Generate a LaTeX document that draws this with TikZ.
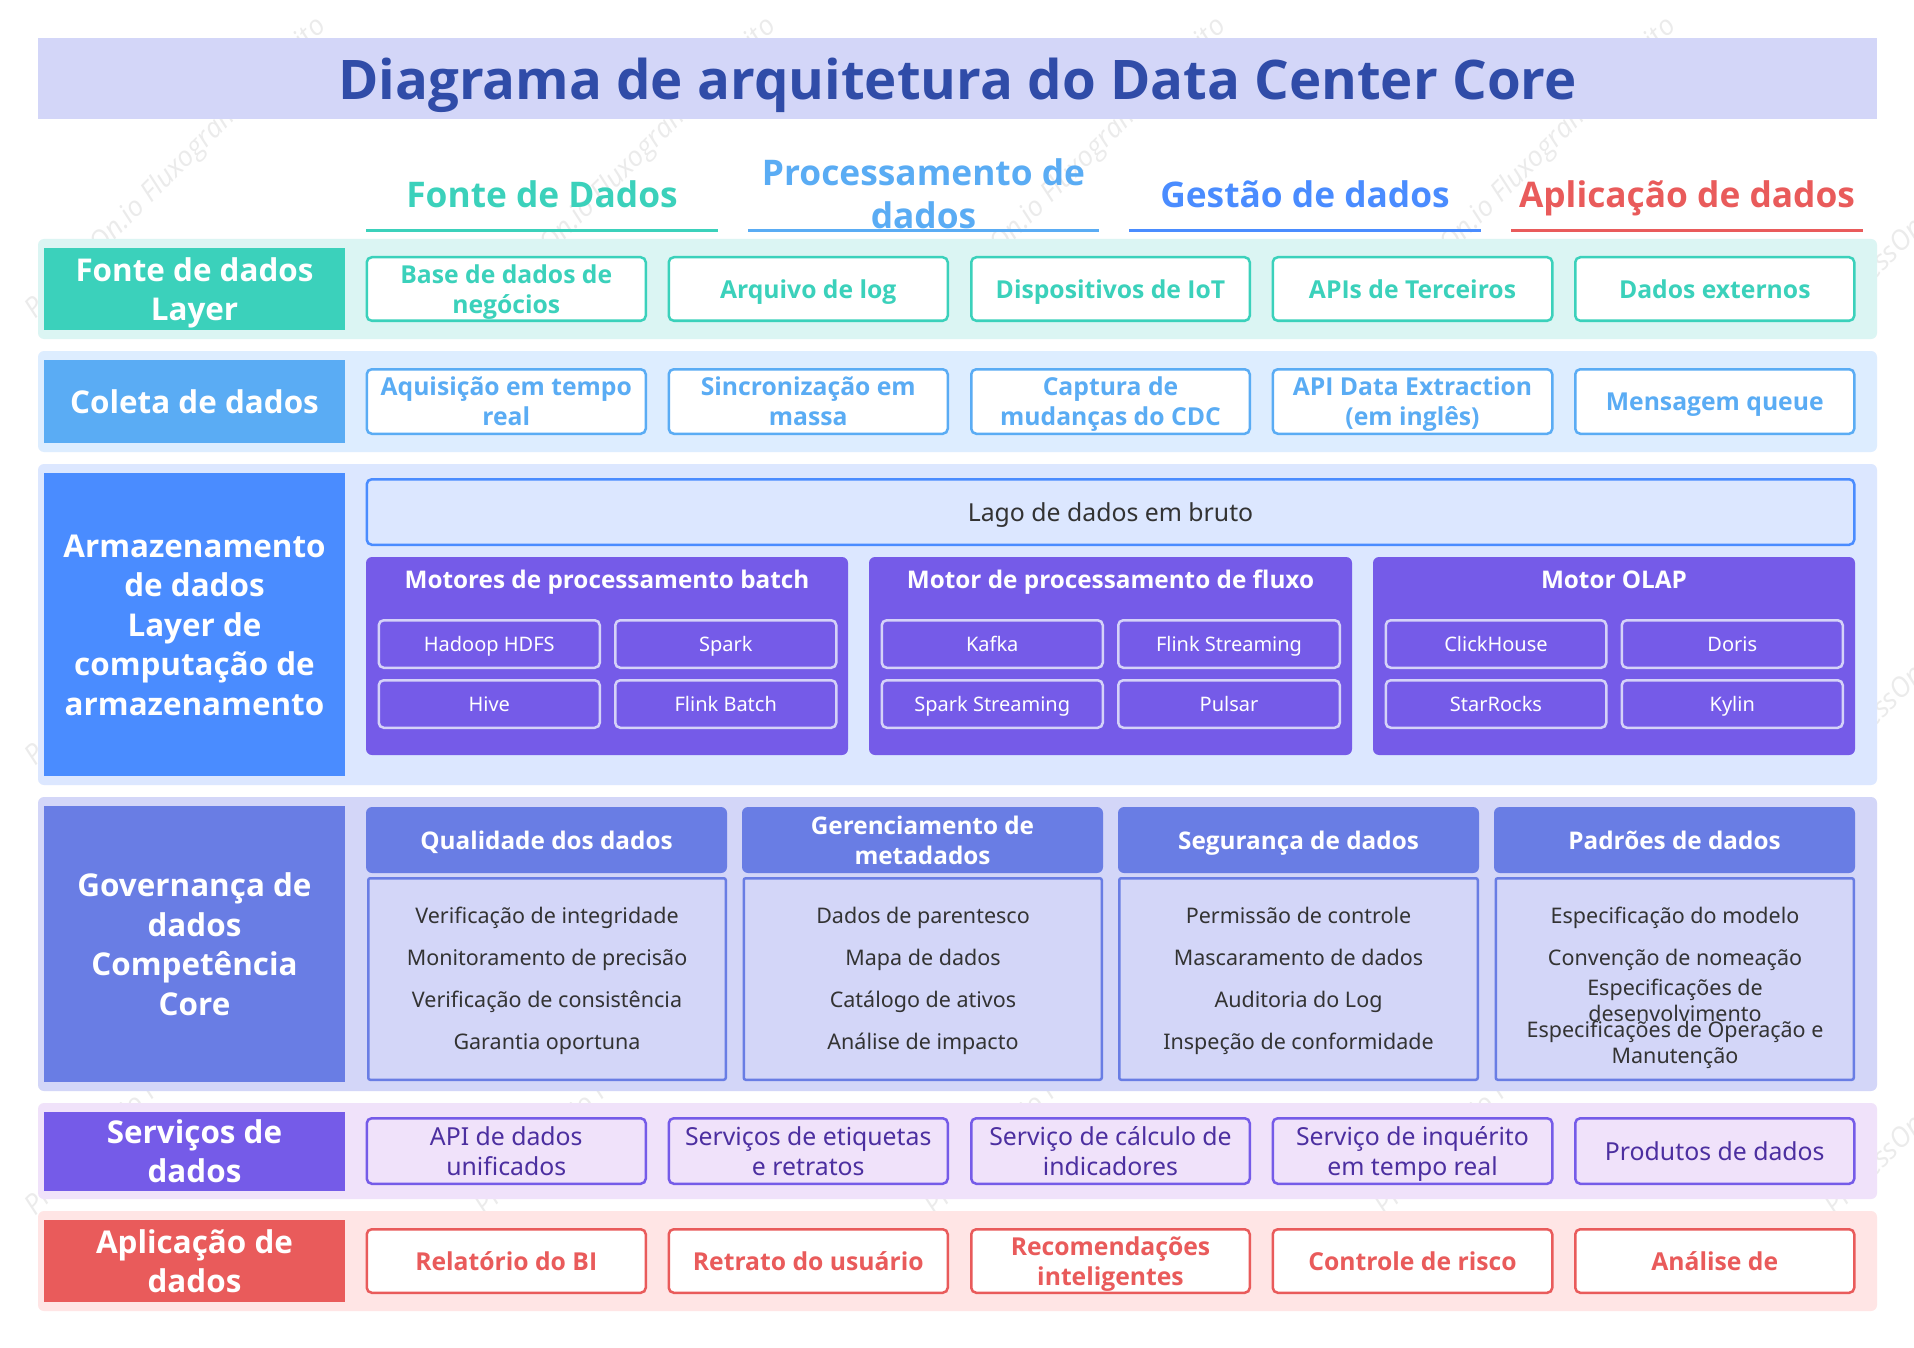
\documentclass[tikz,border=0pt]{standalone}
\usepackage{fontspec}
\setmainfont{Noto Sans}[BoldFont={Open Sans Bold},ItalicFont={Open Sans Italic}]
\definecolor{cTeal}{HTML}{3BD1BB}
\definecolor{cSky}{HTML}{5AACF4}
\definecolor{cBlue}{HTML}{4A8CFF}
\definecolor{cIndigo}{HTML}{697DE4}
\definecolor{cPurple}{HTML}{755BE8}
\definecolor{cRed}{HTML}{E95B5B}
\definecolor{bgTeal}{HTML}{DBF5F3}
\definecolor{bgSky}{HTML}{DDEDFF}
\definecolor{bgBlue}{HTML}{DCE7FF}
\definecolor{bgIndigo}{HTML}{D3D6F8}
\definecolor{bgPurple}{HTML}{F0E2FA}
\definecolor{bgRed}{HTML}{FFE5E5}
\definecolor{cTitle}{HTML}{304CA8}
\definecolor{cDark}{HTML}{333333}
\definecolor{cServ}{HTML}{4C2FA0}
\definecolor{cInner}{HTML}{D5D2F8}
\definecolor{cMark}{HTML}{EBEBEB}
\newcommand{\bxs}{\leavevmode\vrule width 0pt height .8\baselineskip depth .2\baselineskip}
\newcommand{\bx}[8][0]{%
  \pgfmathsetmacro\bxcx{(#4+#6)/2}%
  \pgfmathsetmacro\bxcy{(#5+#7)/2}%
  \pgfmathsetmacro\bxw{#6-#4-2*#1}%
  \pgfmathsetmacro\bxh{#7-#5-2*#1}%
  \node[#3,minimum width=\bxw pt,minimum height=\bxh pt] (#2) at (\bxcx pt,-\bxcy pt) {\bxs #8\bxs};}
\tikzset{
  base/.style={inner sep=0pt,outer sep=0pt,align=center},
  fsBody/.style={font=\fontsize{21.5}{26}\selectfont},
  fsCell/.style={font=\fontsize{24.8}{30}\selectfont},
  fsCellB/.style={font=\fontsize{24.7}{30}\selectfont\bfseries},
  fsLabel/.style={font=\fontsize{31.4}{39.5}\selectfont\bfseries},
  band/.style={base,fill=bgIndigo},
  rowbg/.style={base,rounded corners=6pt},
  lbl/.style={base,fsLabel,text=white},
  cellbox/.style={base,fill=white,draw,line width=2.5pt,rounded corners=5pt,fsCellB},
  svcell/.style={base,fill=bgPurple,draw=cPurple,line width=2.5pt,rounded corners=5pt,fsCell,text=cServ},
  lake/.style={base,fill=bgBlue,draw=cBlue,line width=2.5pt,rounded corners=5pt,fsCell,text=cDark},
  panelbox/.style={base,fill=cPurple,rounded corners=6pt},
  ptitle/.style={base,text=white,font=\fontsize{24.3}{30}\selectfont\bfseries},
  innerbox/.style={base,draw=cInner,line width=2.5pt,rounded corners=5pt,text=white,font=\fontsize{20}{26}\selectfont},
  ghead/.style={base,fill=cIndigo,rounded corners=6pt,text=white,font=\fontsize{24.3}{30}\selectfont\bfseries},
  gbody/.style={base,draw=cIndigo,line width=2.5pt,rounded corners=2pt},
  gtext/.style={base,text=cDark,fsBody},
  chead/.style={base,font=\fontsize{35.3}{43}\selectfont\bfseries},
  cline/.style={line width=2.5pt},
  wmark/.style={inner sep=0pt,anchor=base west,rotate=45,text=cMark,font=\fontsize{27.5}{30}\selectfont\itshape},
}
\begin{document}
\begin{tikzpicture}[x=1pt,y=1pt]
\clip (0,0) rectangle (1914pt,-1348pt);
\fill[white] (0,0) rectangle (1914pt,-1348pt);
% watermarks
\foreach \r/\ry in {1/320,2/767,3/1217}{
  \foreach \c/\cx in {1/35,2/485,3/935,4/1385,5/1835}{
    \node[wmark] (wm\r\c) at (\cx pt,-\ry pt) {ProcessOn.io Fluxograma gratuito};
  }
}
% title
\bx{titleband}{band}{38}{38}{1877}{119}{}
\node[base,text=cTitle,font=\fontsize{54.6}{66}\selectfont\bfseries] (title) at (957.5pt,-85pt) {Diagrama de arquitetura do Data Center Core};
% column heads
\bx{hA}{chead,text=cTeal}{366}{169.5}{718}{219.5}{Fonte de Dados}
\bx{hB}{chead,text=cSky}{748}{149.5}{1099}{238.5}{Processamento de\\dados}
\bx{hC}{chead,text=cBlue}{1129}{169.5}{1481}{219.5}{Gestão de dados}
\bx{hD}{chead,text=cRed}{1511}{169.5}{1863}{219.5}{Aplicação de dados}
\coordinate (lA1) at (366pt,-230.5pt); \coordinate (lA2) at (718pt,-230.5pt);
\coordinate (lB1) at (748pt,-230.5pt); \coordinate (lB2) at (1099pt,-230.5pt);
\coordinate (lC1) at (1129pt,-230.5pt); \coordinate (lC2) at (1481pt,-230.5pt);
\coordinate (lD1) at (1511pt,-230.5pt); \coordinate (lD2) at (1863pt,-230.5pt);
\draw[cline,cTeal] (lA1) -- (lA2);
\draw[cline,cSky] (lB1) -- (lB2);
\draw[cline,cBlue] (lC1) -- (lC2);
\draw[cline,cRed] (lD1) -- (lD2);
% row 1
\bx{r1}{rowbg,fill=bgTeal}{38}{239}{1877}{339}{}
\bx{l1}{lbl,fill=cTeal}{44}{248}{345}{330}{Fonte de dados\\Layer}
\bx[1.25]{a1}{cellbox,draw=cTeal,text=cTeal}{365.5}{256}{647}{322}{Base de dados de\\negócios}
\bx[1.25]{a2}{cellbox,draw=cTeal,text=cTeal}{667.5}{256}{949}{322}{Arquivo de log}
\bx[1.25]{a3}{cellbox,draw=cTeal,text=cTeal}{970}{256}{1251}{322}{Dispositivos de IoT}
\bx[1.25]{a4}{cellbox,draw=cTeal,text=cTeal}{1271.5}{256}{1553.5}{322}{APIs de Terceiros}
\bx[1.25]{a5}{cellbox,draw=cTeal,text=cTeal}{1574}{256}{1855.5}{322}{Dados externos}
% row 2
\bx{r2}{rowbg,fill=bgSky}{38}{351}{1877}{452}{}
\bx{l2}{lbl,fill=cSky}{44}{360}{345}{443}{Coleta de dados}
\bx[1.25]{b1}{cellbox,draw=cSky,text=cSky}{365.5}{368}{647}{435}{Aquisição em tempo\\real}
\bx[1.25]{b2}{cellbox,draw=cSky,text=cSky}{667.5}{368}{949}{435}{Sincronização em\\massa}
\bx[1.25]{b3}{cellbox,draw=cSky,text=cSky}{970}{368}{1251}{435}{Captura de\\mudanças do CDC}
\bx[1.25]{b4}{cellbox,draw=cSky,text=cSky}{1271.5}{368}{1553.5}{435}{API Data Extraction\\(em inglês)}
\bx[1.25]{b5}{cellbox,draw=cSky,text=cSky}{1574}{368}{1855.5}{435}{Mensagem queue}
% row 3
\bx{r3}{rowbg,fill=bgBlue}{38}{464}{1877}{785}{}
\bx{l3}{lbl,fill=cBlue}{44}{473}{345}{776}{Armazenamento\\de dados\\Layer de\\computação de\\armazenamento}
\bx[1.25]{lago}{lake}{365.5}{478}{1855.5}{546}{Lago de dados em bruto}
\bx{p1}{panelbox}{366}{557}{848}{755}{}
\bx{p2}{panelbox}{869}{557}{1352}{755}{}
\bx{p3}{panelbox}{1373}{557}{1855}{755}{}
\bx{p1t}{ptitle}{366}{564}{848}{594}{Motores de processamento batch}
\bx{p2t}{ptitle}{869}{564}{1352}{594}{Motor de processamento de fluxo}
\bx{p3t}{ptitle}{1373}{564}{1855}{594}{Motor OLAP}
\bx[1.25]{p11}{innerbox}{377.5}{619}{601}{669}{Hadoop HDFS}
\bx[1.25]{p12}{innerbox}{614}{619}{837.5}{669}{Spark}
\bx[1.25]{p13}{innerbox}{377.5}{679}{601}{729}{Hive}
\bx[1.25]{p14}{innerbox}{614}{679}{837.5}{729}{Flink Batch}
\bx[1.25]{p21}{innerbox}{880.5}{619}{1104}{669}{Kafka}
\bx[1.25]{p22}{innerbox}{1117}{619}{1341}{669}{Flink Streaming}
\bx[1.25]{p23}{innerbox}{880.5}{679}{1104}{729}{Spark Streaming}
\bx[1.25]{p24}{innerbox}{1117}{679}{1341}{729}{Pulsar}
\bx[1.25]{p31}{innerbox}{1384.5}{619}{1607.5}{669}{ClickHouse}
\bx[1.25]{p32}{innerbox}{1620.5}{619}{1844}{669}{Doris}
\bx[1.25]{p33}{innerbox}{1384.5}{679}{1607.5}{729}{StarRocks}
\bx[1.25]{p34}{innerbox}{1620.5}{679}{1844}{729}{Kylin}
% row 4
\bx{r4}{rowbg,fill=bgIndigo}{38}{797}{1877}{1091}{}
\bx{l4}{lbl,fill=cIndigo}{44}{806}{345}{1082}{Governança de\\dados\\Competência\\Core}
\bx{g1}{ghead}{366}{807}{727}{873}{Qualidade dos dados}
\bx{g2}{ghead}{742}{807}{1103}{873}{Gerenciamento de\\metadados}
\bx{g3}{ghead}{1118}{807}{1479}{873}{Segurança de dados}
\bx{g4}{ghead}{1494}{807}{1855}{873}{Padrões de dados}
\bx[1.25]{gb1}{gbody}{367}{877}{727}{1081}{}
\bx[1.25]{gb2}{gbody}{742.5}{877}{1103}{1081}{}
\bx[1.25]{gb3}{gbody}{1118}{877}{1479}{1081}{}
\bx[1.25]{gb4}{gbody}{1494.5}{877}{1855}{1081}{}
\bx{t11}{gtext}{367}{901}{727}{931}{Verificação de integridade}
\bx{t12}{gtext}{367}{943}{727}{973}{Monitoramento de precisão}
\bx{t13}{gtext}{367}{985}{727}{1015}{Verificação de consistência}
\bx{t14}{gtext}{367}{1027}{727}{1057}{Garantia oportuna}
\bx{t21}{gtext}{743}{901}{1103}{931}{Dados de parentesco}
\bx{t22}{gtext}{743}{943}{1103}{973}{Mapa de dados}
\bx{t23}{gtext}{743}{985}{1103}{1015}{Catálogo de ativos}
\bx{t24}{gtext}{743}{1027}{1103}{1057}{Análise de impacto}
\bx{t31}{gtext}{1118}{901}{1479}{931}{Permissão de controle}
\bx{t32}{gtext}{1118}{943}{1479}{973}{Mascaramento de dados}
\bx{t33}{gtext}{1118}{985}{1479}{1015}{Auditoria do Log}
\bx{t34}{gtext}{1118}{1027}{1479}{1057}{Inspeção de conformidade}
\bx{t41}{gtext}{1495}{901}{1855}{931}{Especificação do modelo}
\bx{t42}{gtext}{1495}{943}{1855}{973}{Convenção de nomeação}
\bx{t43}{gtext}{1495}{986}{1855}{1016}{Especificações de\\desenvolvimento}
\bx{t44}{gtext}{1495}{1027.5}{1855}{1057.5}{Especificações de Operação e\\Manutenção}
% row 5
\bx{r5}{rowbg,fill=bgPurple}{38}{1103}{1877}{1199}{}
\bx{l5}{lbl,fill=cPurple}{44}{1112}{345}{1190}{Serviços de\\dados}
\bx[1.25]{s1}{svcell}{365.5}{1117}{647}{1185}{API de dados\\unificados}
\bx[1.25]{s2}{svcell}{667.5}{1117}{949}{1185}{Serviços de etiquetas\\e retratos}
\bx[1.25]{s3}{svcell}{970}{1117}{1251}{1185}{Serviço de cálculo de\\indicadores}
\bx[1.25]{s4}{svcell}{1271.5}{1117}{1553.5}{1185}{Serviço de inquérito\\em tempo real}
\bx[1.25]{s5}{svcell}{1574}{1117}{1855.5}{1185}{Produtos de dados}
% row 6
\bx{r6}{rowbg,fill=bgRed}{38}{1211}{1877}{1311}{}
\bx{l6}{lbl,fill=cRed}{44}{1220}{345}{1302}{Aplicação de\\dados}
\bx[1.25]{d1}{cellbox,draw=cRed,text=cRed}{365.5}{1228}{647}{1294}{Relatório do BI}
\bx[1.25]{d2}{cellbox,draw=cRed,text=cRed}{667.5}{1228}{949}{1294}{Retrato do usuário}
\bx[1.25]{d3}{cellbox,draw=cRed,text=cRed}{970}{1228}{1251}{1294}{Recomendações\\inteligentes}
\bx[1.25]{d4}{cellbox,draw=cRed,text=cRed}{1271.5}{1228}{1553.5}{1294}{Controle de risco}
\bx[1.25]{d5}{cellbox,draw=cRed,text=cRed}{1574}{1228}{1855.5}{1294}{Análise de}
\end{tikzpicture}
\end{document}
